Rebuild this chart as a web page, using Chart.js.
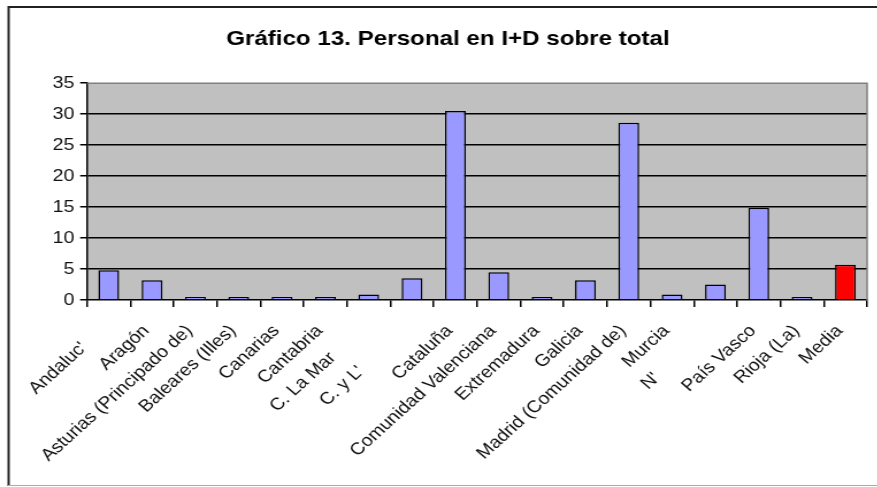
<!DOCTYPE html>
<html>
<head>
<meta charset="utf-8">
<script src="https://cdn.jsdelivr.net/npm/chart.js@4/dist/chart.umd.min.js"></script>
<style>
html, body { margin: 0; padding: 0; background: #fff; overflow: hidden; }
/* the reference is stretched sideways, so draw narrower and stretch */
#wrap { position: absolute; left: 0; top: 0; width: 779px; height: 487px; transform: scaleX(1.15); transform-origin: 0 0; }
</style>
</head>
<body>
<div id="wrap"><canvas id="chartCanvas" width="779" height="487"></canvas></div>
<script>
// clipped labels keep trailing spaces so they sit where the reference shows them
const categories = ["Andaluc'     ", 'Aragón', 'Asturias (Principado de)', 'Baleares (Illes)', 'Canarias', 'Cantabria',
    'C. La Mar        ', "C. y L'            ", 'Cataluña', 'Comunidad Valenciana', 'Extremadura', 'Galicia',
    'Madrid (Comunidad de)', 'Murcia', "N'              ", 'País Vasco', 'Rioja (La)', 'Media']
const personal = [4.8, 3.2, 0.5, 0.3, 0.5, 0.3, 0.9, 3.5, 30.5, 4.5, 0.2, 3.2, 28.6, 0.9, 2.5, 14.9, 0.2, 5.7]
const barColors = categories.map(c => c === 'Media' ? '#ff0000' : '#9999ff')

const fontFamily = "'Liberation Sans', Arial, sans-serif"

const plotBackground = {
    id: 'plotBackground',
    beforeDraw(chart) {
        const {ctx, chartArea: {left, top, right, bottom}} = chart
        ctx.save()
        ctx.fillStyle = '#fff'
        ctx.fillRect(0, 0, chart.width, chart.height)
        ctx.fillStyle = '#c0c0c0'
        ctx.fillRect(left, top, right - left, bottom - top)
        // outer frame
        ctx.strokeStyle = '#222'
        ctx.lineWidth = 2
        ctx.beginPath()
        ctx.moveTo(7.5, 486)
        ctx.lineTo(7.5, 7)
        ctx.lineTo(chart.width + 5, 7)
        ctx.stroke()
        ctx.strokeStyle = '#aaa'
        ctx.lineWidth = 1
        ctx.beginPath()
        ctx.moveTo(7, 485.5)
        ctx.lineTo(chart.width, 485.5)
        ctx.stroke()
        ctx.restore()
    },
    afterDatasetsDraw(chart) {
        const {ctx, chartArea: {left, top, right, bottom}} = chart
        ctx.save()
        ctx.strokeStyle = '#808080'
        ctx.lineWidth = 1.5
        ctx.beginPath()
        ctx.moveTo(left, top)
        ctx.lineTo(right, top)
        ctx.lineTo(right, bottom)
        ctx.stroke()
        ctx.restore()
    }
}

const chart = new Chart(document.getElementById('chartCanvas'), {
    type: 'bar',
    data: {
        labels: categories,
        datasets: [{
            data: personal,
            backgroundColor: barColors,
            borderColor: '#000',
            borderWidth: 1.5,
            barPercentage: 0.48,
            categoryPercentage: 1,
            minBarLength: 3
        }]
    },
    options: {
        responsive: false,
        animation: false,
        layout: { padding: { left: 25, right: 25, top: 0, bottom: 0 } },
        plugins: {
            legend: { display: false },
            tooltip: { enabled: false },
            title: {
                display: true,
                text: 'Gráfico 13. Personal en I+D sobre total',
                color: '#000',
                font: { family: fontFamily, size: 21, weight: 'bold' },
                padding: { top: 27, bottom: 31 }
            }
        },
        scales: {
            x: {
                ticks: {
                    color: '#111',
                    font: { family: fontFamily, size: 17 },
                    minRotation: 46,
                    maxRotation: 46,
                    autoSkip: false,
                    padding: 14,
                    labelOffset: -5
                },
                grid: { drawOnChartArea: false, color: '#000', tickLength: 7, lineWidth: 1.5, offset: true },
                border: { color: '#000', width: 1.5 },
                afterFit: s => { s.height = 187 }
            },
            y: {
                min: 0,
                max: 35,
                ticks: {
                    stepSize: 5,
                    color: '#111',
                    font: { family: fontFamily, size: 17 },
                    padding: 5
                },
                grid: {
                    color: ctx => (ctx.tick && ctx.tick.value > 0 && ctx.tick.value < 35) ? '#000' : 'rgba(0,0,0,0)',
                    tickColor: '#000',
                    tickLength: 6,
                    lineWidth: 1.5
                },
                border: { color: '#000', width: 1.5 },
                afterFit: s => { s.width = 50.7 }
            }
        }
    },
    plugins: [plotBackground]
})
</script>
</body>
</html>
